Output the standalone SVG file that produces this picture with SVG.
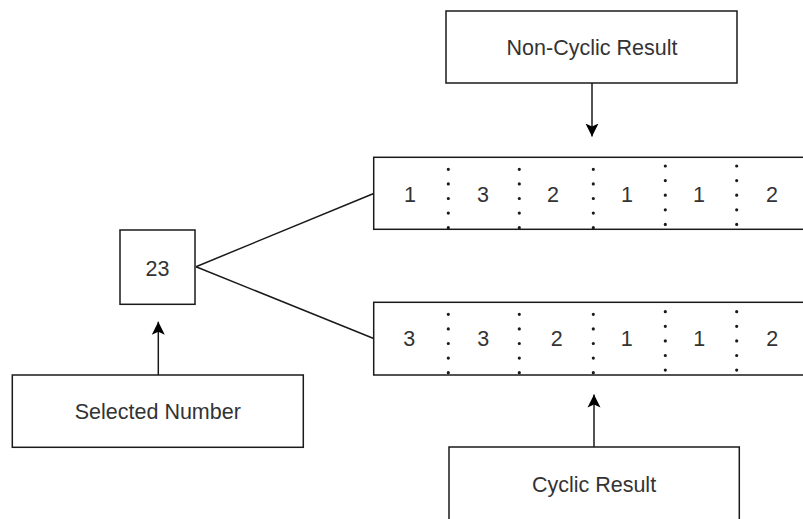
<svg xmlns="http://www.w3.org/2000/svg" width="803" height="519" viewBox="0 0 803 519">
  <style>
    .box { fill: #ffffff; stroke: #1a1a1a; stroke-width: 1.5; }
    .lbl { font-family: "Liberation Sans", Arial, sans-serif; font-size: 21.5px; fill: #333333; text-anchor: middle; }
    .edge { fill: none; stroke: #1a1a1a; stroke-width: 1.5; }
    .dots { fill: none; stroke: #1a1a1a; stroke-width: 3.2; stroke-linecap: round; stroke-dasharray: 0 14.6; }
  </style>
  <defs>
    <marker id="head" viewBox="0 0 13 14" refX="13" refY="7" markerWidth="13" markerHeight="14" markerUnits="userSpaceOnUse" orient="auto">
      <path d="M0,0.5 L13,7 L0,13.5 L3,7 Z" fill="#000000"/>
    </marker>
  </defs>

  <rect width="803" height="519" fill="#ffffff"/>

  <!-- connectors -->
  <g id="connectors">
    <line class="edge" x1="592" y1="83" x2="592" y2="136.5" marker-end="url(#head)"/>
    <line class="edge" x1="158.3" y1="375" x2="158.3" y2="321.7" marker-end="url(#head)"/>
    <line class="edge" x1="594" y1="447" x2="594" y2="394.5" marker-end="url(#head)"/>
    <line class="edge" x1="196" y1="266.7" x2="373.7" y2="193.5"/>
    <line class="edge" x1="196" y1="266.7" x2="373.7" y2="338.5"/>
  </g>

  <!-- source value -->
  <g id="number">
    <rect class="box" x="120" y="230" width="75" height="74.3"/>
    <text class="lbl" x="157.5" y="276">23</text>
  </g>

  <g id="selected-number">
    <rect class="box" x="12.3" y="375" width="291" height="72.3"/>
    <text class="lbl" x="157.8" y="419">Selected Number</text>
  </g>

  <g id="non-cyclic-label">
    <rect class="box" x="446" y="11" width="291" height="72"/>
    <text class="lbl" x="592" y="55">Non-Cyclic Result</text>
  </g>

  <g id="cyclic-label">
    <rect class="box" x="449" y="447" width="290.3" height="80"/>
    <text class="lbl" x="594" y="491.5">Cyclic Result</text>
  </g>

  <!-- digit strips -->
  <g id="non-cyclic-row">
    <rect class="box" x="373.7" y="157.3" width="440" height="72"/>
    <path class="dots" d="M448.3,169.3V229 M519.3,169.3V229 M593.3,169.3V229 M665.3,166V226 M736.7,166V226"/>
    <text class="lbl" x="410" y="202">1</text>
    <text class="lbl" x="483" y="202">3</text>
    <text class="lbl" x="553" y="202">2</text>
    <text class="lbl" x="627" y="202">1</text>
    <text class="lbl" x="699" y="202">1</text>
    <text class="lbl" x="772" y="202">2</text>
  </g>

  <g id="cyclic-row">
    <rect class="box" x="373.7" y="302.3" width="440" height="72.7"/>
    <path class="dots" d="M448.3,314.3V374 M519.3,314.3V374 M593.3,314.3V374 M665.3,311.7V371 M736.7,311.7V371"/>
    <text class="lbl" x="409.3" y="346">3</text>
    <text class="lbl" x="483.3" y="346">3</text>
    <text class="lbl" x="556.7" y="346">2</text>
    <text class="lbl" x="626.7" y="346">1</text>
    <text class="lbl" x="699.3" y="346">1</text>
    <text class="lbl" x="772.3" y="346">2</text>
  </g>
</svg>
